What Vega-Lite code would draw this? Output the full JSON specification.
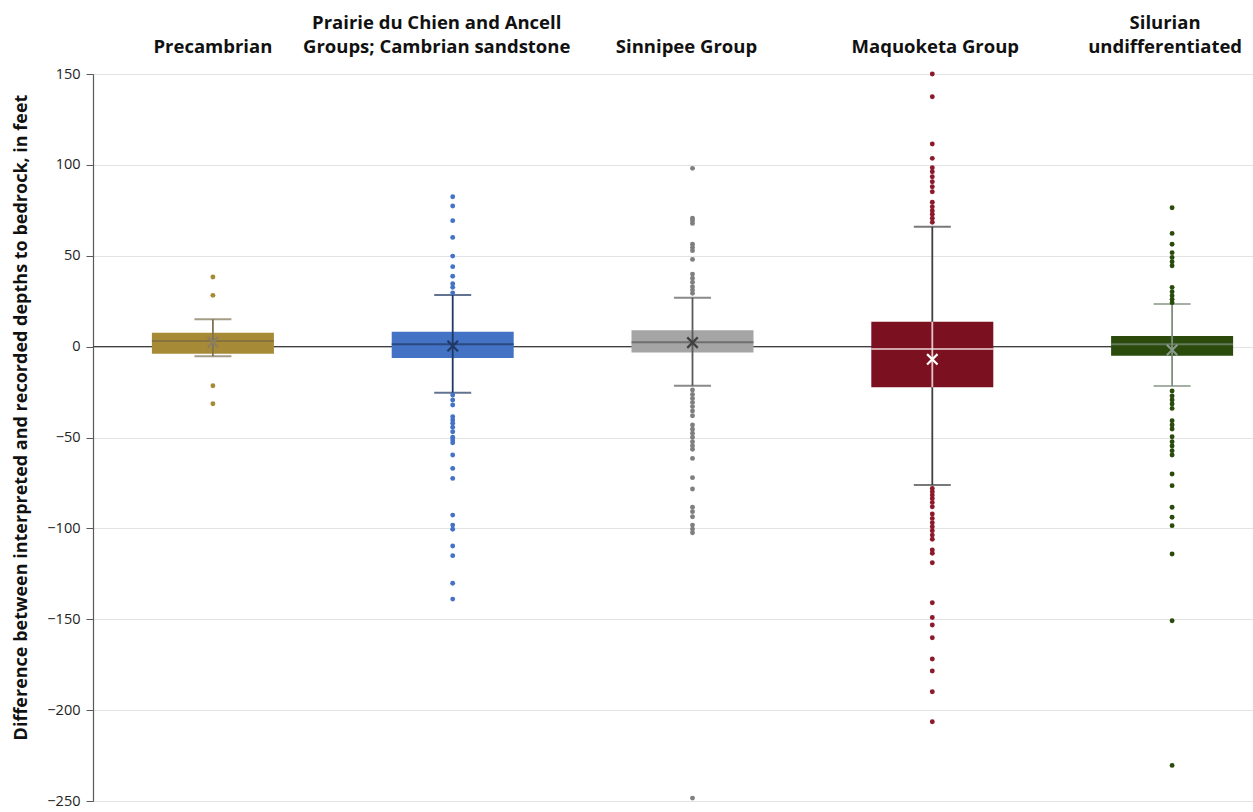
{
  "$schema": "https://vega.github.io/schema/vega-lite/v6.json",
  "width": 1135,
  "height": 727,
  "autosize": {"type": "none"},
  "padding": {"left": 93, "top": 74, "right": 25, "bottom": 11},
  "background": "white",
  "config": {"font": "Open Sans", "view": {"stroke": null}},
  "datasets": {
    "stats": [
      {"category": "Precambrian", "lower": -5.3, "q1": -3.9, "median": 3.1, "mean": 2.4, "q3": 7.6, "upper": 15.0},
      {"category": "Prairie du Chien and Ancell Groups; Cambrian sandstone", "lower": -25.4, "q1": -6.3, "median": 1.3, "mean": 0.3, "q3": 8.2, "upper": 28.4},
      {"category": "Sinnipee Group", "lower": -21.5, "q1": -3.3, "median": 2.4, "mean": 2.2, "q3": 9.0, "upper": 26.9},
      {"category": "Maquoketa Group", "lower": -76.1, "q1": -22.4, "median": -1.3, "mean": -7.0, "q3": 13.7, "upper": 66.0},
      {"category": "Silurian undifferentiated", "lower": -21.7, "q1": -5.0, "median": 1.3, "mean": -1.9, "q3": 5.8, "upper": 23.4}
    ],
    "outliers": [
      {"category": "Precambrian", "value": 38.3},
      {"category": "Precambrian", "value": 28.2},
      {"category": "Precambrian", "value": -21.5},
      {"category": "Precambrian", "value": -31.4},
      {"category": "Prairie du Chien and Ancell Groups; Cambrian sandstone", "value": 82.5},
      {"category": "Prairie du Chien and Ancell Groups; Cambrian sandstone", "value": 77.4},
      {"category": "Prairie du Chien and Ancell Groups; Cambrian sandstone", "value": 69.3},
      {"category": "Prairie du Chien and Ancell Groups; Cambrian sandstone", "value": 60.1},
      {"category": "Prairie du Chien and Ancell Groups; Cambrian sandstone", "value": 49.8},
      {"category": "Prairie du Chien and Ancell Groups; Cambrian sandstone", "value": 44.0},
      {"category": "Prairie du Chien and Ancell Groups; Cambrian sandstone", "value": 38.7},
      {"category": "Prairie du Chien and Ancell Groups; Cambrian sandstone", "value": 34.6},
      {"category": "Prairie du Chien and Ancell Groups; Cambrian sandstone", "value": 32.6},
      {"category": "Prairie du Chien and Ancell Groups; Cambrian sandstone", "value": 29.6},
      {"category": "Prairie du Chien and Ancell Groups; Cambrian sandstone", "value": -26.6},
      {"category": "Prairie du Chien and Ancell Groups; Cambrian sandstone", "value": -29.4},
      {"category": "Prairie du Chien and Ancell Groups; Cambrian sandstone", "value": -32.1},
      {"category": "Prairie du Chien and Ancell Groups; Cambrian sandstone", "value": -38.6},
      {"category": "Prairie du Chien and Ancell Groups; Cambrian sandstone", "value": -40.4},
      {"category": "Prairie du Chien and Ancell Groups; Cambrian sandstone", "value": -42.2},
      {"category": "Prairie du Chien and Ancell Groups; Cambrian sandstone", "value": -44.4},
      {"category": "Prairie du Chien and Ancell Groups; Cambrian sandstone", "value": -46.8},
      {"category": "Prairie du Chien and Ancell Groups; Cambrian sandstone", "value": -49.9},
      {"category": "Prairie du Chien and Ancell Groups; Cambrian sandstone", "value": -51.4},
      {"category": "Prairie du Chien and Ancell Groups; Cambrian sandstone", "value": -52.9},
      {"category": "Prairie du Chien and Ancell Groups; Cambrian sandstone", "value": -59.6},
      {"category": "Prairie du Chien and Ancell Groups; Cambrian sandstone", "value": -67.0},
      {"category": "Prairie du Chien and Ancell Groups; Cambrian sandstone", "value": -72.5},
      {"category": "Prairie du Chien and Ancell Groups; Cambrian sandstone", "value": -92.7},
      {"category": "Prairie du Chien and Ancell Groups; Cambrian sandstone", "value": -98.2},
      {"category": "Prairie du Chien and Ancell Groups; Cambrian sandstone", "value": -100.5},
      {"category": "Prairie du Chien and Ancell Groups; Cambrian sandstone", "value": -109.7},
      {"category": "Prairie du Chien and Ancell Groups; Cambrian sandstone", "value": -115.0},
      {"category": "Prairie du Chien and Ancell Groups; Cambrian sandstone", "value": -130.2},
      {"category": "Prairie du Chien and Ancell Groups; Cambrian sandstone", "value": -138.9},
      {"category": "Sinnipee Group", "value": 98.1},
      {"category": "Sinnipee Group", "value": 70.6},
      {"category": "Sinnipee Group", "value": 69.3},
      {"category": "Sinnipee Group", "value": 67.8},
      {"category": "Sinnipee Group", "value": 56.3},
      {"category": "Sinnipee Group", "value": 54.6},
      {"category": "Sinnipee Group", "value": 52.8},
      {"category": "Sinnipee Group", "value": 48.0},
      {"category": "Sinnipee Group", "value": 39.9},
      {"category": "Sinnipee Group", "value": 37.6},
      {"category": "Sinnipee Group", "value": 35.4},
      {"category": "Sinnipee Group", "value": 33.0},
      {"category": "Sinnipee Group", "value": 31.1},
      {"category": "Sinnipee Group", "value": 29.3},
      {"category": "Sinnipee Group", "value": -23.9},
      {"category": "Sinnipee Group", "value": -26.3},
      {"category": "Sinnipee Group", "value": -28.5},
      {"category": "Sinnipee Group", "value": -30.7},
      {"category": "Sinnipee Group", "value": -33.0},
      {"category": "Sinnipee Group", "value": -35.4},
      {"category": "Sinnipee Group", "value": -38.0},
      {"category": "Sinnipee Group", "value": -43.1},
      {"category": "Sinnipee Group", "value": -45.5},
      {"category": "Sinnipee Group", "value": -47.7},
      {"category": "Sinnipee Group", "value": -49.9},
      {"category": "Sinnipee Group", "value": -52.3},
      {"category": "Sinnipee Group", "value": -54.5},
      {"category": "Sinnipee Group", "value": -56.5},
      {"category": "Sinnipee Group", "value": -61.5},
      {"category": "Sinnipee Group", "value": -72.1},
      {"category": "Sinnipee Group", "value": -78.3},
      {"category": "Sinnipee Group", "value": -88.4},
      {"category": "Sinnipee Group", "value": -90.8},
      {"category": "Sinnipee Group", "value": -93.6},
      {"category": "Sinnipee Group", "value": -98.2},
      {"category": "Sinnipee Group", "value": -100.4},
      {"category": "Sinnipee Group", "value": -102.4},
      {"category": "Sinnipee Group", "value": -248.4},
      {"category": "Maquoketa Group", "value": 150.0},
      {"category": "Maquoketa Group", "value": 137.5},
      {"category": "Maquoketa Group", "value": 111.5},
      {"category": "Maquoketa Group", "value": 103.6},
      {"category": "Maquoketa Group", "value": 98.4},
      {"category": "Maquoketa Group", "value": 96.2},
      {"category": "Maquoketa Group", "value": 93.5},
      {"category": "Maquoketa Group", "value": 90.7},
      {"category": "Maquoketa Group", "value": 88.0},
      {"category": "Maquoketa Group", "value": 85.2},
      {"category": "Maquoketa Group", "value": 79.4},
      {"category": "Maquoketa Group", "value": 77.0},
      {"category": "Maquoketa Group", "value": 74.8},
      {"category": "Maquoketa Group", "value": 72.8},
      {"category": "Maquoketa Group", "value": 70.6},
      {"category": "Maquoketa Group", "value": 68.4},
      {"category": "Maquoketa Group", "value": -78.0},
      {"category": "Maquoketa Group", "value": -79.8},
      {"category": "Maquoketa Group", "value": -81.7},
      {"category": "Maquoketa Group", "value": -83.5},
      {"category": "Maquoketa Group", "value": -85.7},
      {"category": "Maquoketa Group", "value": -88.1},
      {"category": "Maquoketa Group", "value": -92.1},
      {"category": "Maquoketa Group", "value": -94.5},
      {"category": "Maquoketa Group", "value": -96.9},
      {"category": "Maquoketa Group", "value": -99.1},
      {"category": "Maquoketa Group", "value": -101.3},
      {"category": "Maquoketa Group", "value": -103.7},
      {"category": "Maquoketa Group", "value": -106.0},
      {"category": "Maquoketa Group", "value": -111.9},
      {"category": "Maquoketa Group", "value": -113.7},
      {"category": "Maquoketa Group", "value": -118.9},
      {"category": "Maquoketa Group", "value": -140.9},
      {"category": "Maquoketa Group", "value": -149.0},
      {"category": "Maquoketa Group", "value": -153.2},
      {"category": "Maquoketa Group", "value": -160.2},
      {"category": "Maquoketa Group", "value": -171.9},
      {"category": "Maquoketa Group", "value": -178.5},
      {"category": "Maquoketa Group", "value": -189.9},
      {"category": "Maquoketa Group", "value": -206.4},
      {"category": "Silurian undifferentiated", "value": 76.4},
      {"category": "Silurian undifferentiated", "value": 62.3},
      {"category": "Silurian undifferentiated", "value": 56.3},
      {"category": "Silurian undifferentiated", "value": 51.7},
      {"category": "Silurian undifferentiated", "value": 49.1},
      {"category": "Silurian undifferentiated", "value": 46.7},
      {"category": "Silurian undifferentiated", "value": 44.5},
      {"category": "Silurian undifferentiated", "value": 32.6},
      {"category": "Silurian undifferentiated", "value": 30.2},
      {"category": "Silurian undifferentiated", "value": 28.0},
      {"category": "Silurian undifferentiated", "value": 26.0},
      {"category": "Silurian undifferentiated", "value": 24.2},
      {"category": "Silurian undifferentiated", "value": -24.4},
      {"category": "Silurian undifferentiated", "value": -27.2},
      {"category": "Silurian undifferentiated", "value": -29.4},
      {"category": "Silurian undifferentiated", "value": -31.6},
      {"category": "Silurian undifferentiated", "value": -34.0},
      {"category": "Silurian undifferentiated", "value": -40.8},
      {"category": "Silurian undifferentiated", "value": -43.1},
      {"category": "Silurian undifferentiated", "value": -45.3},
      {"category": "Silurian undifferentiated", "value": -49.6},
      {"category": "Silurian undifferentiated", "value": -52.3},
      {"category": "Silurian undifferentiated", "value": -54.7},
      {"category": "Silurian undifferentiated", "value": -57.3},
      {"category": "Silurian undifferentiated", "value": -59.6},
      {"category": "Silurian undifferentiated", "value": -70.1},
      {"category": "Silurian undifferentiated", "value": -76.5},
      {"category": "Silurian undifferentiated", "value": -88.4},
      {"category": "Silurian undifferentiated", "value": -93.9},
      {"category": "Silurian undifferentiated", "value": -98.5},
      {"category": "Silurian undifferentiated", "value": -114.1},
      {"category": "Silurian undifferentiated", "value": -150.8},
      {"category": "Silurian undifferentiated", "value": -230.4}
    ]
  },
  "layer": [
    {
      "data": {"values": [{}]},
      "mark": {"type": "rule", "color": "#404040", "strokeWidth": 1.2},
      "encoding": {
        "y": {"datum": 0, "type": "quantitative", "scale": {"domain": [-250, 150], "nice": false, "zero": false},
          "axis": {"values": [-250, -200, -150, -100, -50, 0, 50, 100, 150], "grid": true, "gridColor": "#E3E3E3", "gridWidth": 1, "domainColor": "#595959", "domainWidth": 1.2, "tickColor": "#595959", "tickSize": 7, "labelFontSize": 14.5, "labelColor": "#222222", "labelPadding": 6, "titleFontSize": 18, "titleFontWeight": "bold", "titleColor": "#111111", "titlePadding": 16, "titleY": 343, "title": "Difference between interpreted and recorded depths to bedrock, in feet"}}
      }
    },
    {
      "data": {"name": "stats"},
      "mark": {"type": "rule", "strokeWidth": 1.8},
      "encoding": {
        "x": {"field": "category", "type": "nominal", "sort": ["Precambrian", "Prairie du Chien and Ancell Groups; Cambrian sandstone", "Sinnipee Group", "Maquoketa Group", "Silurian undifferentiated"], "scale": {"range": [0, 1199], "paddingInner": 0, "paddingOuter": 0},
          "axis": {"orient": "top", "title": null, "domain": false, "ticks": false, "grid": false, "labelAngle": 0, "labelFontSize": 18.5, "labelFontWeight": "bold", "labelColor": "#111111", "labelPadding": 42, "labelLimit": 400, "labelLineHeight": 24, "labelOffset": {"condition": [{"test": "datum.value == 'Prairie du Chien and Ancell Groups; Cambrian sandstone'", "value": -16}, {"test": "datum.value == 'Sinnipee Group'", "value": -6}, {"test": "datum.value == 'Silurian undifferentiated'", "value": -7}, {"test": "datum.value == 'Maquoketa Group'", "value": 3}], "value": 0}, "labelExpr": "datum.value == 'Prairie du Chien and Ancell Groups; Cambrian sandstone' ? ['Prairie du Chien and Ancell', 'Groups; Cambrian sandstone'] : datum.value == 'Silurian undifferentiated' ? ['Silurian', 'undifferentiated'] : ['', datum.value]"}},
        "y": {"field": "lower", "type": "quantitative", "title": "Difference between interpreted and recorded depths to bedrock, in feet", "scale": {"domain": [-250, 150], "nice": false, "zero": false}},
        "y2": {"field": "upper"},
        "color": {"field": "category", "type": "nominal", "legend": null, "scale": {"domain": ["Precambrian", "Prairie du Chien and Ancell Groups; Cambrian sandstone", "Sinnipee Group", "Maquoketa Group", "Silurian undifferentiated"], "range": ["#7F7255", "#203864", "#595959", "#404040", "#7F8F7F"]}}
      }
    },
    {
      "data": {"name": "stats"},
      "mark": {"type": "bar", "width": 122},
      "encoding": {
        "x": {"field": "category", "type": "nominal", "sort": ["Precambrian", "Prairie du Chien and Ancell Groups; Cambrian sandstone", "Sinnipee Group", "Maquoketa Group", "Silurian undifferentiated"], "scale": {"range": [0, 1199], "paddingInner": 0, "paddingOuter": 0},
          "axis": {"orient": "top", "title": null, "domain": false, "ticks": false, "grid": false, "labelAngle": 0, "labelFontSize": 18.5, "labelFontWeight": "bold", "labelColor": "#111111", "labelPadding": 42, "labelLimit": 400, "labelLineHeight": 24, "labelOffset": {"condition": [{"test": "datum.value == 'Prairie du Chien and Ancell Groups; Cambrian sandstone'", "value": -16}, {"test": "datum.value == 'Sinnipee Group'", "value": -6}, {"test": "datum.value == 'Silurian undifferentiated'", "value": -7}, {"test": "datum.value == 'Maquoketa Group'", "value": 3}], "value": 0}, "labelExpr": "datum.value == 'Prairie du Chien and Ancell Groups; Cambrian sandstone' ? ['Prairie du Chien and Ancell', 'Groups; Cambrian sandstone'] : datum.value == 'Silurian undifferentiated' ? ['Silurian', 'undifferentiated'] : ['', datum.value]"}},
        "y": {"field": "q1", "type": "quantitative", "title": "Difference between interpreted and recorded depths to bedrock, in feet", "scale": {"domain": [-250, 150], "nice": false, "zero": false}},
        "y2": {"field": "q3"},
        "color": {"field": "category", "type": "nominal", "legend": null, "scale": {"domain": ["Precambrian", "Prairie du Chien and Ancell Groups; Cambrian sandstone", "Sinnipee Group", "Maquoketa Group", "Silurian undifferentiated"], "range": ["#A68A36", "#4472C4", "#A5A5A5", "#7B1120", "#2A4B0C"]}}
      }
    },
    {
      "data": {"name": "stats"},
      "mark": {"type": "rule", "strokeWidth": 1.8},
      "encoding": {
        "x": {"field": "category", "type": "nominal", "sort": ["Precambrian", "Prairie du Chien and Ancell Groups; Cambrian sandstone", "Sinnipee Group", "Maquoketa Group", "Silurian undifferentiated"], "scale": {"range": [0, 1199], "paddingInner": 0, "paddingOuter": 0},
          "axis": {"orient": "top", "title": null, "domain": false, "ticks": false, "grid": false, "labelAngle": 0, "labelFontSize": 18.5, "labelFontWeight": "bold", "labelColor": "#111111", "labelPadding": 42, "labelLimit": 400, "labelLineHeight": 24, "labelOffset": {"condition": [{"test": "datum.value == 'Prairie du Chien and Ancell Groups; Cambrian sandstone'", "value": -16}, {"test": "datum.value == 'Sinnipee Group'", "value": -6}, {"test": "datum.value == 'Silurian undifferentiated'", "value": -7}, {"test": "datum.value == 'Maquoketa Group'", "value": 3}], "value": 0}, "labelExpr": "datum.value == 'Prairie du Chien and Ancell Groups; Cambrian sandstone' ? ['Prairie du Chien and Ancell', 'Groups; Cambrian sandstone'] : datum.value == 'Silurian undifferentiated' ? ['Silurian', 'undifferentiated'] : ['', datum.value]"}},
        "y": {"field": "q1", "type": "quantitative", "title": "Difference between interpreted and recorded depths to bedrock, in feet", "scale": {"domain": [-250, 150], "nice": false, "zero": false}},
        "y2": {"field": "q3"},
        "color": {"field": "category", "type": "nominal", "legend": null, "scale": {"domain": ["Precambrian", "Prairie du Chien and Ancell Groups; Cambrian sandstone", "Sinnipee Group", "Maquoketa Group", "Silurian undifferentiated"], "range": ["#7F7255", "#203864", "#595959", "#E8C4CA", "#7F8F7F"]}}
      }
    },
    {
      "data": {"name": "stats"},
      "mark": {"type": "tick", "size": 37, "thickness": 2},
      "encoding": {
        "x": {"field": "category", "type": "nominal", "sort": ["Precambrian", "Prairie du Chien and Ancell Groups; Cambrian sandstone", "Sinnipee Group", "Maquoketa Group", "Silurian undifferentiated"], "scale": {"range": [0, 1199], "paddingInner": 0, "paddingOuter": 0},
          "axis": {"orient": "top", "title": null, "domain": false, "ticks": false, "grid": false, "labelAngle": 0, "labelFontSize": 18.5, "labelFontWeight": "bold", "labelColor": "#111111", "labelPadding": 42, "labelLimit": 400, "labelLineHeight": 24, "labelOffset": {"condition": [{"test": "datum.value == 'Prairie du Chien and Ancell Groups; Cambrian sandstone'", "value": -16}, {"test": "datum.value == 'Sinnipee Group'", "value": -6}, {"test": "datum.value == 'Silurian undifferentiated'", "value": -7}, {"test": "datum.value == 'Maquoketa Group'", "value": 3}], "value": 0}, "labelExpr": "datum.value == 'Prairie du Chien and Ancell Groups; Cambrian sandstone' ? ['Prairie du Chien and Ancell', 'Groups; Cambrian sandstone'] : datum.value == 'Silurian undifferentiated' ? ['Silurian', 'undifferentiated'] : ['', datum.value]"}},
        "y": {"field": "upper", "type": "quantitative", "title": "Difference between interpreted and recorded depths to bedrock, in feet", "scale": {"domain": [-250, 150], "nice": false, "zero": false}},
        "color": {"field": "category", "type": "nominal", "legend": null, "scale": {"domain": ["Precambrian", "Prairie du Chien and Ancell Groups; Cambrian sandstone", "Sinnipee Group", "Maquoketa Group", "Silurian undifferentiated"], "range": ["#7F7255", "#203864", "#595959", "#404040", "#7F8F7F"]}}
      }
    },
    {
      "data": {"name": "stats"},
      "mark": {"type": "tick", "size": 37, "thickness": 2},
      "encoding": {
        "x": {"field": "category", "type": "nominal", "sort": ["Precambrian", "Prairie du Chien and Ancell Groups; Cambrian sandstone", "Sinnipee Group", "Maquoketa Group", "Silurian undifferentiated"], "scale": {"range": [0, 1199], "paddingInner": 0, "paddingOuter": 0},
          "axis": {"orient": "top", "title": null, "domain": false, "ticks": false, "grid": false, "labelAngle": 0, "labelFontSize": 18.5, "labelFontWeight": "bold", "labelColor": "#111111", "labelPadding": 42, "labelLimit": 400, "labelLineHeight": 24, "labelOffset": {"condition": [{"test": "datum.value == 'Prairie du Chien and Ancell Groups; Cambrian sandstone'", "value": -16}, {"test": "datum.value == 'Sinnipee Group'", "value": -6}, {"test": "datum.value == 'Silurian undifferentiated'", "value": -7}, {"test": "datum.value == 'Maquoketa Group'", "value": 3}], "value": 0}, "labelExpr": "datum.value == 'Prairie du Chien and Ancell Groups; Cambrian sandstone' ? ['Prairie du Chien and Ancell', 'Groups; Cambrian sandstone'] : datum.value == 'Silurian undifferentiated' ? ['Silurian', 'undifferentiated'] : ['', datum.value]"}},
        "y": {"field": "lower", "type": "quantitative", "title": "Difference between interpreted and recorded depths to bedrock, in feet", "scale": {"domain": [-250, 150], "nice": false, "zero": false}},
        "color": {"field": "category", "type": "nominal", "legend": null, "scale": {"domain": ["Precambrian", "Prairie du Chien and Ancell Groups; Cambrian sandstone", "Sinnipee Group", "Maquoketa Group", "Silurian undifferentiated"], "range": ["#7F7255", "#203864", "#595959", "#404040", "#7F8F7F"]}}
      }
    },
    {
      "data": {"name": "stats"},
      "mark": {"type": "tick", "size": 122, "thickness": 2},
      "encoding": {
        "x": {"field": "category", "type": "nominal", "sort": ["Precambrian", "Prairie du Chien and Ancell Groups; Cambrian sandstone", "Sinnipee Group", "Maquoketa Group", "Silurian undifferentiated"], "scale": {"range": [0, 1199], "paddingInner": 0, "paddingOuter": 0},
          "axis": {"orient": "top", "title": null, "domain": false, "ticks": false, "grid": false, "labelAngle": 0, "labelFontSize": 18.5, "labelFontWeight": "bold", "labelColor": "#111111", "labelPadding": 42, "labelLimit": 400, "labelLineHeight": 24, "labelOffset": {"condition": [{"test": "datum.value == 'Prairie du Chien and Ancell Groups; Cambrian sandstone'", "value": -16}, {"test": "datum.value == 'Sinnipee Group'", "value": -6}, {"test": "datum.value == 'Silurian undifferentiated'", "value": -7}, {"test": "datum.value == 'Maquoketa Group'", "value": 3}], "value": 0}, "labelExpr": "datum.value == 'Prairie du Chien and Ancell Groups; Cambrian sandstone' ? ['Prairie du Chien and Ancell', 'Groups; Cambrian sandstone'] : datum.value == 'Silurian undifferentiated' ? ['Silurian', 'undifferentiated'] : ['', datum.value]"}},
        "y": {"field": "median", "type": "quantitative", "title": "Difference between interpreted and recorded depths to bedrock, in feet", "scale": {"domain": [-250, 150], "nice": false, "zero": false}},
        "color": {"field": "category", "type": "nominal", "legend": null, "scale": {"domain": ["Precambrian", "Prairie du Chien and Ancell Groups; Cambrian sandstone", "Sinnipee Group", "Maquoketa Group", "Silurian undifferentiated"], "range": ["#7A6A40", "#203864", "#595959", "#F4E4E6", "#7F8F7F"]}}
      }
    },
    {
      "data": {"name": "stats"},
      "mark": {"type": "point", "shape": "M-1,-1L1,1M-1,1L1,-1", "filled": false, "size": 110, "strokeWidth": 2.2, "opacity": 1},
      "encoding": {
        "x": {"field": "category", "type": "nominal", "sort": ["Precambrian", "Prairie du Chien and Ancell Groups; Cambrian sandstone", "Sinnipee Group", "Maquoketa Group", "Silurian undifferentiated"], "scale": {"range": [0, 1199], "paddingInner": 0, "paddingOuter": 0},
          "axis": {"orient": "top", "title": null, "domain": false, "ticks": false, "grid": false, "labelAngle": 0, "labelFontSize": 18.5, "labelFontWeight": "bold", "labelColor": "#111111", "labelPadding": 42, "labelLimit": 400, "labelLineHeight": 24, "labelOffset": {"condition": [{"test": "datum.value == 'Prairie du Chien and Ancell Groups; Cambrian sandstone'", "value": -16}, {"test": "datum.value == 'Sinnipee Group'", "value": -6}, {"test": "datum.value == 'Silurian undifferentiated'", "value": -7}, {"test": "datum.value == 'Maquoketa Group'", "value": 3}], "value": 0}, "labelExpr": "datum.value == 'Prairie du Chien and Ancell Groups; Cambrian sandstone' ? ['Prairie du Chien and Ancell', 'Groups; Cambrian sandstone'] : datum.value == 'Silurian undifferentiated' ? ['Silurian', 'undifferentiated'] : ['', datum.value]"}},
        "y": {"field": "mean", "type": "quantitative", "title": "Difference between interpreted and recorded depths to bedrock, in feet", "scale": {"domain": [-250, 150], "nice": false, "zero": false}},
        "color": {"field": "category", "type": "nominal", "legend": null, "scale": {"domain": ["Precambrian", "Prairie du Chien and Ancell Groups; Cambrian sandstone", "Sinnipee Group", "Maquoketa Group", "Silurian undifferentiated"], "range": ["#8C7F60", "#203864", "#404040", "#FFFFFF", "#8A9A8A"]}}
      }
    },
    {
      "data": {"name": "outliers"},
      "mark": {"type": "circle", "size": 24, "opacity": 1},
      "encoding": {
        "x": {"field": "category", "type": "nominal", "sort": ["Precambrian", "Prairie du Chien and Ancell Groups; Cambrian sandstone", "Sinnipee Group", "Maquoketa Group", "Silurian undifferentiated"], "scale": {"range": [0, 1199], "paddingInner": 0, "paddingOuter": 0},
          "axis": {"orient": "top", "title": null, "domain": false, "ticks": false, "grid": false, "labelAngle": 0, "labelFontSize": 18.5, "labelFontWeight": "bold", "labelColor": "#111111", "labelPadding": 42, "labelLimit": 400, "labelLineHeight": 24, "labelOffset": {"condition": [{"test": "datum.value == 'Prairie du Chien and Ancell Groups; Cambrian sandstone'", "value": -16}, {"test": "datum.value == 'Sinnipee Group'", "value": -6}, {"test": "datum.value == 'Silurian undifferentiated'", "value": -7}, {"test": "datum.value == 'Maquoketa Group'", "value": 3}], "value": 0}, "labelExpr": "datum.value == 'Prairie du Chien and Ancell Groups; Cambrian sandstone' ? ['Prairie du Chien and Ancell', 'Groups; Cambrian sandstone'] : datum.value == 'Silurian undifferentiated' ? ['Silurian', 'undifferentiated'] : ['', datum.value]"}},
        "y": {"field": "value", "type": "quantitative", "title": "Difference between interpreted and recorded depths to bedrock, in feet", "scale": {"domain": [-250, 150], "nice": false, "zero": false}},
        "color": {"field": "category", "type": "nominal", "legend": null, "scale": {"domain": ["Precambrian", "Prairie du Chien and Ancell Groups; Cambrian sandstone", "Sinnipee Group", "Maquoketa Group", "Silurian undifferentiated"], "range": ["#A68A36", "#4472C4", "#7F7F7F", "#8B1A2B", "#2A4B0C"]}}
      }
    }
  ],
  "resolve": {"scale": {"color": "independent"}}
}
